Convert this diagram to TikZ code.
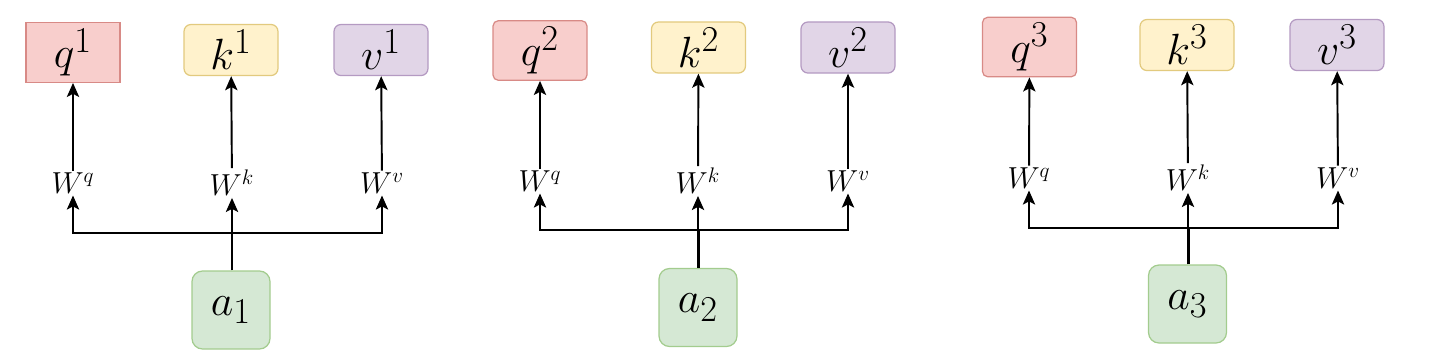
\documentclass[tikz,border=0pt]{standalone}
\usetikzlibrary{arrows.meta}

\definecolor{qfill}{HTML}{F8CECC}
\definecolor{qline}{HTML}{D88A86}
\definecolor{kfill}{HTML}{FFF2CC}
\definecolor{kline}{HTML}{E2CA7E}
\definecolor{vfill}{HTML}{E1D5E7}
\definecolor{vline}{HTML}{B49AC2}
\definecolor{afill}{HTML}{D5E8D4}
\definecolor{aline}{HTML}{A3CC8E}

\begin{document}
\begin{tikzpicture}[
  arrow/.style={-{Stealth[length=8pt, width=7pt, inset=1.8pt]}, line width=1.1pt},
  trunk/.style={line width=1.7pt},
  box/.style={draw, line width=0.7pt, minimum width=1.88cm, minimum height=0.93cm, font=\Huge},
  qbox/.style={box, fill=qfill, draw=qline, rounded corners=3pt},
  kbox/.style={box, fill=kfill, draw=kline, rounded corners=4pt},
  vbox/.style={box, fill=vfill, draw=vline, rounded corners=4pt},
  abox/.style={draw=aline, fill=afill, line width=0.7pt, rounded corners=6pt,
    minimum size=1.56cm, font=\Huge},
  wlabel/.style={inner sep=1pt, font=\LARGE}
]
  \useasboundingbox (0,0) rectangle (28.84,-7.06);

  % first token
  \node[qbox, rounded corners=0pt] (q1) at (1.46, -1.05) {$q^1$};
  \node[kbox] (k1) at (4.62, -1.00) {$k^1$};
  \node[vbox] (v1) at (7.62, -1.00) {$v^1$};
  \node[wlabel] (wq1) at (1.46, -3.66) {$W^q$};
  \node[wlabel] (wk1) at (4.64, -3.66) {$W^k$};
  \node[wlabel] (wv1) at (7.64, -3.66) {$W^v$};
  \node[abox] (a1) at (4.62, -6.20) {$a_1$};
  \coordinate (j1) at (4.64, -4.66);

  \draw[arrow] (wq1) -- (q1);
  \draw[arrow] (wk1) -- (k1);
  \draw[arrow] (wv1) -- (v1);
  \draw[trunk] (a1.north -| j1) -- (j1);
  \draw[arrow] (j1) -- (wk1);
  \draw[arrow] (j1) -| (wq1);
  \draw[arrow] (j1) -| (wv1);

  % second token
  \node[qbox] (q2) at (10.80, -1.01) {$q^2$};
  \node[kbox] (k2) at (13.97, -0.95) {$k^2$};
  \node[vbox] (v2) at (16.96, -0.95) {$v^2$};
  \node[wlabel] (wq2) at (10.80, -3.62) {$W^q$};
  \node[wlabel] (wk2) at (13.96, -3.62) {$W^k$};
  \node[wlabel] (wv2) at (16.96, -3.62) {$W^v$};
  \node[abox] (a2) at (13.96, -6.15) {$a_2$};
  \coordinate (j2) at (13.96, -4.60);

  \draw[arrow] (wq2) -- (q2);
  \draw[arrow] (wk2) -- (k2);
  \draw[arrow] (wv2) -- (v2);
  \draw[trunk] (a2.north -| j2) -- (j2);
  \draw[arrow] (j2) -- (wk2);
  \draw[arrow] (j2) -| (wq2);
  \draw[arrow] (j2) -| (wv2);

  % third token
  \node[qbox] (q3) at (20.59, -0.94) {$q^3$};
  \node[kbox] (k3) at (23.74, -0.90) {$k^3$};
  \node[vbox] (v3) at (26.74, -0.90) {$v^3$};
  \node[wlabel] (wq3) at (20.58, -3.56) {$W^q$};
  \node[wlabel] (wk3) at (23.76, -3.56) {$W^k$};
  \node[wlabel] (wv3) at (26.76, -3.56) {$W^v$};
  \node[abox] (a3) at (23.75, -6.08) {$a_3$};
  \coordinate (j3) at (23.76, -4.56);

  \draw[arrow] (wq3) -- (q3);
  \draw[arrow] (wk3) -- (k3);
  \draw[arrow] (wv3) -- (v3);
  \draw[trunk] (a3.north -| j3) -- (j3);
  \draw[arrow] (j3) -- (wk3);
  \draw[arrow] (j3) -| (wq3);
  \draw[arrow] (j3) -| (wv3);
\end{tikzpicture}
\end{document}
